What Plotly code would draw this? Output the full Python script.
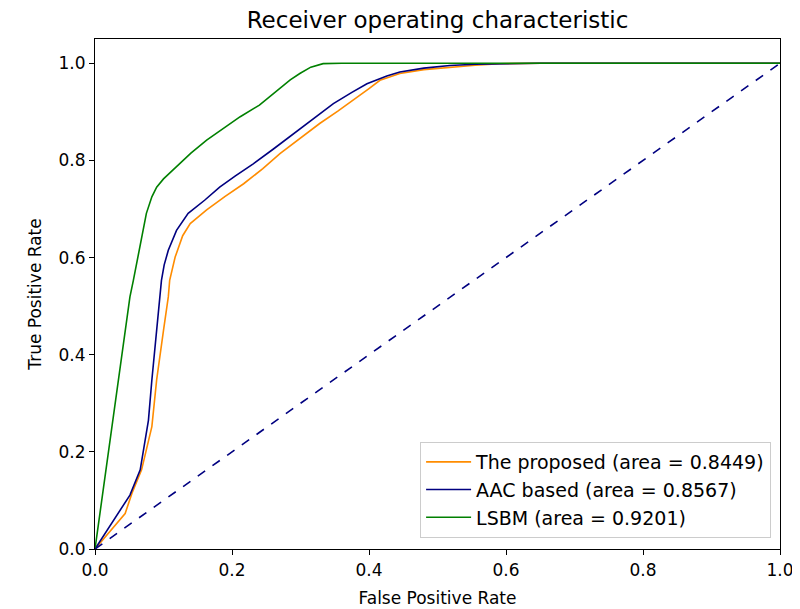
import plotly.graph_objects as go

# The proposed
prop_fpr = [0.0, 0.044, 0.054, 0.068, 0.083, 0.090, 0.100, 0.107, 0.109, 0.117, 0.128, 0.139, 0.163, 0.190, 0.217, 0.245, 0.270, 0.300, 0.328, 0.355, 0.377, 0.400, 0.416, 0.445, 0.480, 0.518, 0.555, 0.591, 0.650, 1.0]
prop_tpr = [0.0, 0.073, 0.115, 0.163, 0.252, 0.348, 0.450, 0.519, 0.553, 0.601, 0.645, 0.670, 0.698, 0.726, 0.752, 0.783, 0.814, 0.846, 0.876, 0.902, 0.924, 0.948, 0.965, 0.979, 0.987, 0.992, 0.996, 0.999, 1.0, 1.0]

# AAC based
aac_fpr = [0.0, 0.051, 0.066, 0.078, 0.083, 0.090, 0.095, 0.097, 0.101, 0.107, 0.119, 0.136, 0.160, 0.182, 0.205, 0.231, 0.260, 0.290, 0.320, 0.348, 0.375, 0.397, 0.426, 0.445, 0.480, 0.518, 0.555, 0.591, 0.650, 1.0]
aac_tpr = [0.0, 0.111, 0.163, 0.265, 0.348, 0.450, 0.519, 0.553, 0.585, 0.615, 0.656, 0.691, 0.718, 0.745, 0.768, 0.793, 0.823, 0.855, 0.887, 0.917, 0.940, 0.958, 0.974, 0.982, 0.990, 0.9955, 0.998, 0.999, 1.0, 1.0]

# LSBM
lsbm_fpr = [0.0, 0.029, 0.041, 0.051, 0.056, 0.068, 0.075, 0.083, 0.090, 0.100, 0.119, 0.140, 0.163, 0.190, 0.212, 0.240, 0.265, 0.285, 0.299, 0.315, 0.333, 0.360, 1.0]
lsbm_tpr = [0.0, 0.300, 0.423, 0.519, 0.553, 0.636, 0.691, 0.725, 0.745, 0.762, 0.787, 0.815, 0.842, 0.868, 0.890, 0.914, 0.944, 0.966, 0.979, 0.992, 0.9993, 1.0, 1.0]

diag = [0.0, 1.0]

labels = ["The proposed (area = 0.8449)", "AAC based (area = 0.8567)", "LSBM (area = 0.9201)"]
colors = ["#FF8C00", "#000080", "#008000"]

fig = go.Figure()
for xs, ys, name, col in zip([prop_fpr, aac_fpr, lsbm_fpr], [prop_tpr, aac_tpr, lsbm_tpr], labels, colors):
    fig.add_trace(go.Scatter(x=xs, y=ys, mode="lines", name=name,
                             line=dict(color=col, width=1.6)))
fig.add_trace(go.Scatter(x=diag, y=diag, mode="lines", showlegend=False,
                         line=dict(color="#000080", width=1.6, dash="dash")))

axis_common = dict(showgrid=False, zeroline=False, showline=True, linecolor="black",
                   linewidth=1.2, mirror=True, ticks="outside", ticklen=5,
                   tickcolor="black", tickfont=dict(size=17, color="black"),
                   tickformat=".1f", dtick=0.2, automargin=False)
fig.update_xaxes(range=[0, 1.0], title=dict(text="False Positive Rate", font=dict(size=17, color="black"), standoff=13), **axis_common)
fig.update_yaxes(range=[0, 1.05], title=dict(text="True Positive Rate", font=dict(size=17, color="black"), standoff=12), **axis_common)

fig.update_layout(
    width=800, height=609,
    margin=dict(l=87, r=28, t=31, b=68, autoexpand=False),
    paper_bgcolor="white", plot_bgcolor="white",
    font=dict(family="DejaVu Sans", color="black"),
    title=dict(text="Receiver operating characteristic", x=0.5, xref="paper", xanchor="center",
               y=0.980, yanchor="middle", font=dict(size=23, color="black")),
    legend=dict(x=0.987, y=0.0216, xanchor="right", yanchor="bottom",
                bgcolor="rgba(255,255,255,0.8)", bordercolor="#cccccc", borderwidth=1,
                font=dict(size=19, color="black"), tracegroupgap=0, itemwidth=45),
    showlegend=True,
)

fig.write_html("out.html")
